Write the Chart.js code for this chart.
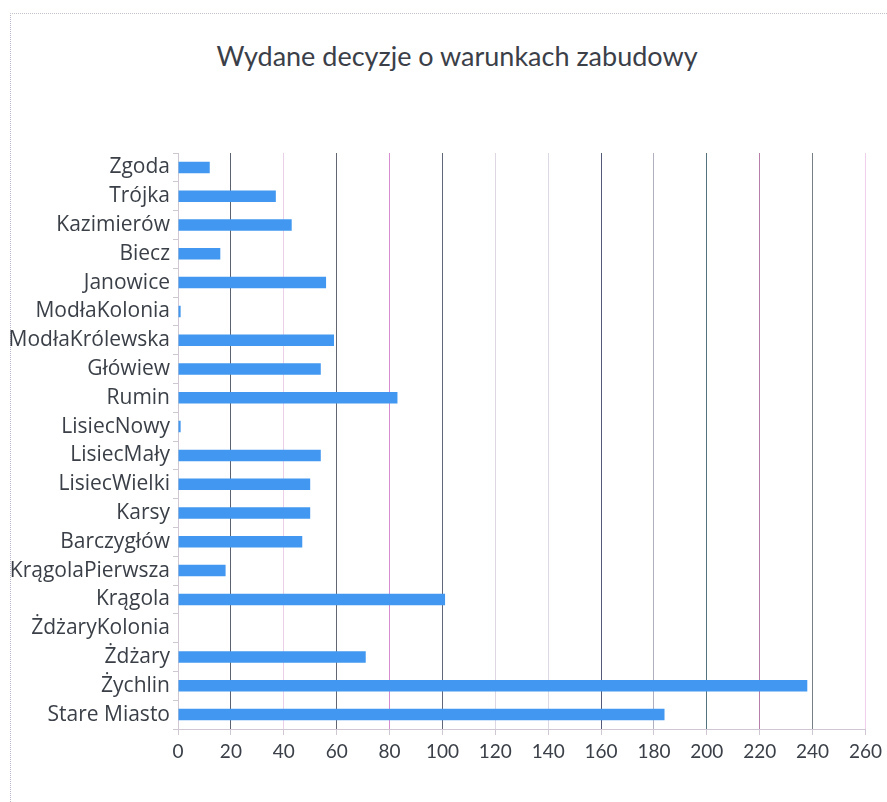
<!DOCTYPE html>
<html>
<head>
<meta charset="utf-8">
<script src="https://cdn.jsdelivr.net/npm/chart.js@4"></script>
<style>
  html, body { margin: 0; padding: 0; background: #fff; }
  #wrap { position: relative; width: 887px; height: 802px; overflow: hidden; }
  #frame {
    position: absolute; left: 10px; top: 13px; right: -2px; bottom: -2px;
    border-left: 1px dotted #b9b3cc; border-top: 1px dotted #c4c0cc;
  }
  #title {
    position: absolute; left: 57px; width: 800px; top: 39px;
    text-align: center; white-space: nowrap;
    font: 27px Lato, "Open Sans", sans-serif; color: #3b4048;
  }
  canvas { position: absolute; left: 0; top: 0; }
</style>
</head>
<body>
<div id="wrap">
  <div id="frame"></div>
  <div id="title">Wydane decyzje o warunkach zabudowy</div>
  <canvas id="chart" width="887" height="802"></canvas>
</div>
<script>
// Chart data
const villages = [
    'Zgoda', 'Trójka', 'Kazimierów', 'Biecz', 'Janowice', 'ModłaKolonia',
    'ModłaKrólewska', 'Główiew', 'Rumin', 'LisiecNowy', 'LisiecMały',
    'LisiecWielki', 'Karsy', 'Barczygłów', 'KrągolaPierwsza', 'Krągola',
    'ŻdżaryKolonia', 'Żdżary', 'Żychlin', 'Stare Miasto'
];
const decisions = [12, 37, 43, 16, 56, 1, 59, 54, 83, 1, 54, 50, 50, 47, 18, 101, 0, 71, 238, 184];
const xTicks = [0, 20, 40, 60, 80, 100, 120, 140, 160, 180, 200, 220, 240, 260];

// gridline tints (the scan gave each vertical line its own colour)
const gridColors = [
    '#c9c4cf', '#5d6270', '#ecd0ea', '#626672', '#d88cd2', '#62667a', '#ded6e2',
    '#ddd8e4', '#535978', '#b0b0c0', '#55737f', '#b87eaa', '#767e86', '#f0d0ec'
];

const textColor = '#3b4048';

new Chart(document.getElementById('chart'), {
    type: 'bar',
    data: {
        labels: villages,
        datasets: [{
            data: decisions,
            backgroundColor: '#4298f0',
            borderWidth: 0,
            categoryPercentage: 0.8,
            barPercentage: 0.5
        }]
    },
    options: {
        indexAxis: 'y',
        responsive: false,
        animation: false,
        layout: { padding: { left: 0, right: 21, top: 153, bottom: 33 } },
        plugins: {
            legend: { display: false },
            tooltip: { enabled: false },
            title: { display: false }
        },
        scales: {
            x: {
                min: xTicks[0],
                max: xTicks[xTicks.length - 1],
                afterBuildTicks: (scale) => {
                    scale.ticks = xTicks.map(v => ({ value: v }));
                },
                afterFit: (scale) => { scale.height = 40; },
                grid: {
                    color: (ctx) => gridColors[ctx.index] || '#ccc',
                    tickColor: '#cfc8d2',
                    tickLength: 6,
                    lineWidth: 1
                },
                border: { color: '#cfc8d2' },
                ticks: {
                    color: textColor,
                    padding: 5,
                    font: { family: 'Lato, "Open Sans", sans-serif', size: 19 }
                }
            },
            y: {
                afterFit: (scale) => { scale.width = 178; },
                grid: {
                    drawOnChartArea: false,
                    tickLength: 5,
                    tickColor: '#cfc8d2'
                },
                border: { color: '#cfc8d2' },
                ticks: {
                    color: textColor,
                    padding: 3,
                    autoSkip: false,
                    font: { family: '"Open Sans", Lato, sans-serif', size: 21 }
                }
            }
        }
    }
});
</script>
</body>
</html>
